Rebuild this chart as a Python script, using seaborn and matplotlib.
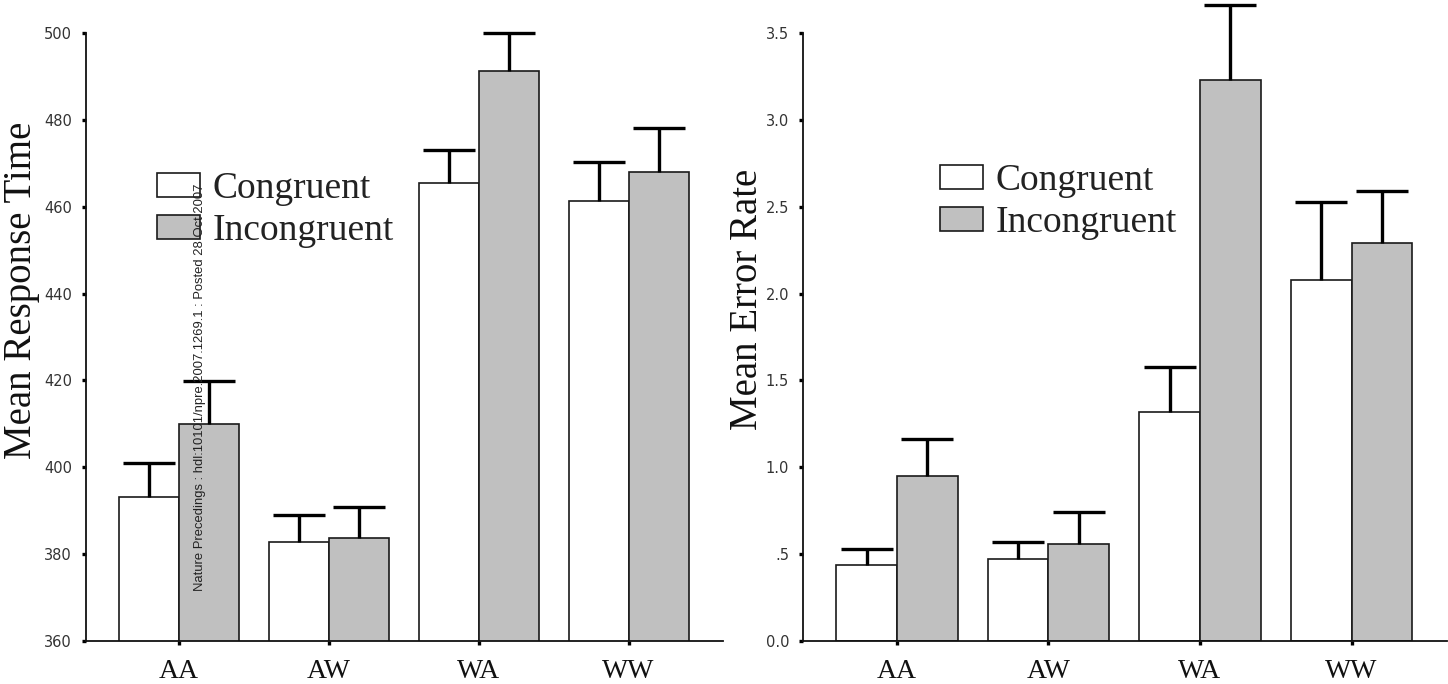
import numpy as np
import pandas as pd
import matplotlib
matplotlib.use("Agg")
import matplotlib.pyplot as plt
from matplotlib.patches import Patch
import seaborn as sns

# ---------------- data ----------------
groups = ["AA", "AW", "WA", "WW"]
conditions = ["Congruent", "Incongruent"]

rt_congruent = [393.1, 382.7, 465.4, 461.3]
rt_congruent_err = [7.8, 6.3, 7.7, 8.9]
rt_incongruent = [410.0, 383.7, 491.3, 468.1]
rt_incongruent_err = [9.9, 7.2, 8.6, 10.0]

er_congruent = [0.44, 0.47, 1.32, 2.08]
er_congruent_err = [0.09, 0.10, 0.26, 0.45]
er_incongruent = [0.95, 0.56, 3.23, 2.29]
er_incongruent_err = [0.21, 0.18, 0.43, 0.30]

rt_ticks = [360, 380, 400, 420, 440, 460, 480, 500]
rt_tick_labels = ["360", "380", "400", "420", "440", "460", "480", "500"]
er_ticks = [0.0, 0.5, 1.0, 1.5, 2.0, 2.5, 3.0, 3.5]
er_tick_labels = ["0.0", ".5", "1.0", "1.5", "2.0", "2.5", "3.0", "3.5"]

watermark = "Nature Precedings : hdl:10101/npre.2007.1269.1 : Posted 28 Oct 2007"

# ---------------- style ----------------
sns.set_style("ticks")
plt.rcParams["font.family"] = ["DejaVu Sans"]
SERIF = "Liberation Serif"
palette = {"Congruent": "white", "Incongruent": "#c0c0c0"}
EDGE = "#1a1a1a"

fig = plt.figure(figsize=(14.48, 6.84), dpi=100)
ax1 = fig.add_axes([86 / 1448, 43 / 684, 637 / 1448, 608 / 684])
ax2 = fig.add_axes([803 / 1448, 43 / 684, 644 / 1448, 608 / 684])


def panel(ax, cong, cong_err, inc, inc_err, ylim, ticks, ticklabels, ylabel,
          label_xy, anchor):
    df = pd.DataFrame({
        "group": groups * 2,
        "condition": [conditions[0]] * len(groups) + [conditions[1]] * len(groups),
        "value": list(cong) + list(inc),
    })
    sns.barplot(data=df, x="group", y="value", hue="condition",
                order=groups, hue_order=conditions, palette=palette,
                saturation=1, edgecolor=EDGE, linewidth=1.2, width=0.8,
                errorbar=None, legend=False, ax=ax)
    for cont, errs in zip(ax.containers, [cong_err, inc_err]):
        xs = np.array([b.get_x() + b.get_width() / 2 for b in cont])
        ys = np.array([b.get_height() for b in cont])
        errs = np.array(errs)
        eb = ax.errorbar(xs, ys, yerr=[np.zeros_like(errs), errs], fmt="none",
                         ecolor="black", elinewidth=2.4, capsize=18.5,
                         capthick=2.4, zorder=5)
        for ch in eb.get_children():
            ch.set_clip_on(False)
        for cap in eb[1]:
            if np.allclose(cap.get_ydata(), ys):
                cap.set_visible(False)

    ax.set_ylim(*ylim)
    ax.set_xlim(-0.62, 3.63)
    ax.set_yticks(ticks)
    ax.set_yticklabels(ticklabels, fontsize=10.5, color="#333333")
    ax.set_xticks(range(len(groups)))
    ax.set_xticklabels(groups, fontsize=20, family=SERIF, color="#111111")
    ax.set_xlabel("")
    ax.set_ylabel(ylabel, fontsize=28, family=SERIF, color="#111111")
    ax.yaxis.set_label_coords(*label_xy)
    ax.tick_params(axis="y", direction="out", length=3, width=2.4, color="black", pad=7)
    ax.tick_params(axis="x", direction="out", length=3, width=2.4, color="black", pad=10)
    sns.despine(ax=ax)
    for s in ("left", "bottom"):
        ax.spines[s].set_linewidth(1.3)
        ax.spines[s].set_color("#111111")

    handles = [Patch(facecolor=palette[c], edgecolor=EDGE, linewidth=1.2) for c in conditions]
    ax.legend(handles, conditions, loc="upper left", bbox_to_anchor=anchor,
              frameon=False, prop={"family": SERIF, "size": 27},
              handlelength=1.15, handleheight=0.6, handletextpad=0.33,
              labelspacing=0.2, borderpad=0, borderaxespad=0, labelcolor="#222222")


panel(ax1, rt_congruent, rt_congruent_err, rt_incongruent, rt_incongruent_err,
      (360, 500), rt_ticks, rt_tick_labels, "Mean Response Time",
      (-0.072, 0.577), (0.111, 0.772))
panel(ax2, er_congruent, er_congruent_err, er_incongruent, er_incongruent_err,
      (0.0, 3.5), er_ticks, er_tick_labels, "Mean Error Rate",
      (-0.058, 0.5625), (0.213, 0.785))

fig.text(200 / 1448, 1 - 387 / 684, watermark, rotation=90, ha="center", va="center",
         fontsize=9.4, family="Liberation Sans", color="#222222", zorder=20)

fig.savefig("out.png", dpi=100, facecolor="white")
